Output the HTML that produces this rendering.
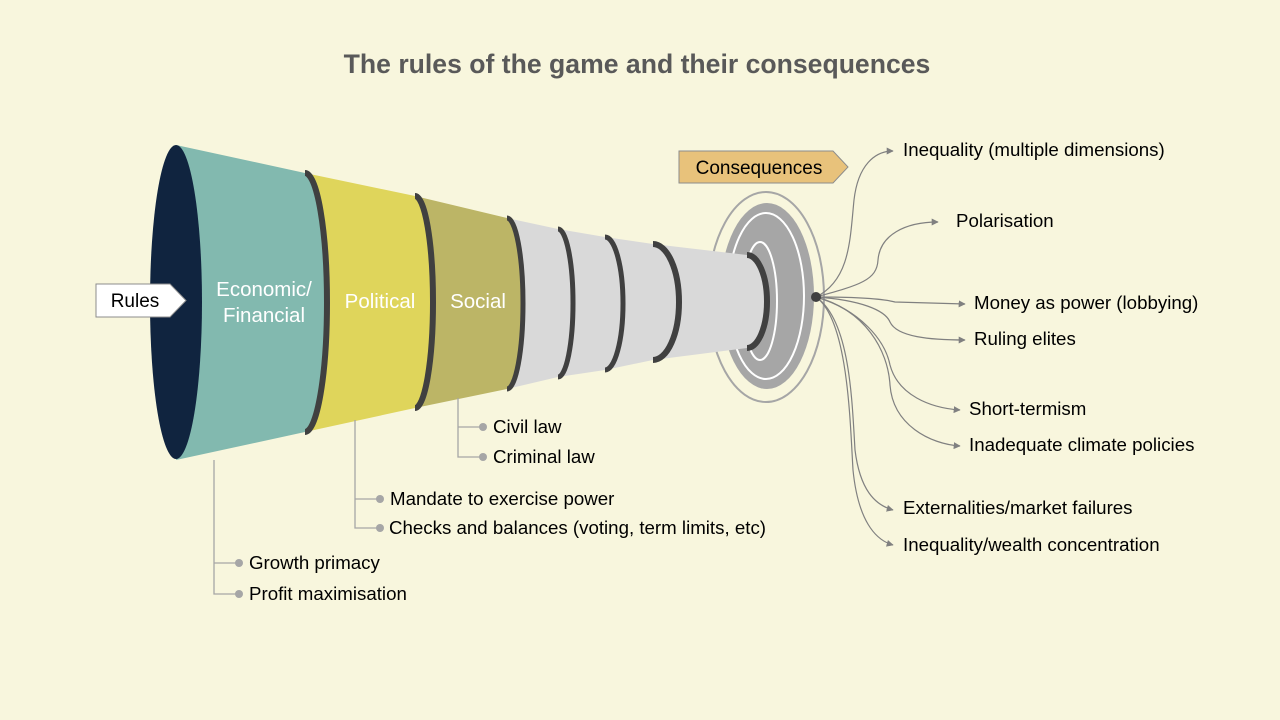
<!DOCTYPE html>
<html><head><meta charset="utf-8"><style>
html,body{margin:0;padding:0;background:#f8f6dd;}
svg{display:block;font-family:"Liberation Sans",Arial,sans-serif;}
</style></head><body>
<svg width="1280" height="720" viewBox="0 0 1280 720" xmlns="http://www.w3.org/2000/svg">
<defs>
<marker id="ar" viewBox="0 0 10 10" refX="9" refY="5" markerWidth="7" markerHeight="7" orient="auto" markerUnits="userSpaceOnUse"><path d="M0,0 L10,5 L0,10 z" fill="#808080"/></marker>
</defs>
<rect width="1280" height="720" fill="#f8f6dd"/>
<text x="637" y="73" text-anchor="middle" font-size="26.6" font-weight="bold" fill="#595959">The rules of the game and their consequences</text>

<!-- target -->
<ellipse cx="766" cy="297" rx="58" ry="105" fill="none" stroke="#a6a6a6" stroke-width="2"/>
<ellipse cx="767" cy="296" rx="47" ry="93" fill="#a6a6a6"/>
<ellipse cx="766" cy="296" rx="38" ry="83" fill="none" stroke="#fff" stroke-width="2"/>
<ellipse cx="760" cy="301" rx="17" ry="59" fill="none" stroke="#fff" stroke-width="2"/>

<!-- grey funnel segments (right to left) -->
<path d="M653,244 L747,255 A20,46.5 0 0 1 747,348 L653,360 Z" fill="#d9d9d9"/>
<path d="M747,255 A20,46.5 0 0 1 747,348" fill="none" stroke="#404040" stroke-width="6"/>
<path d="M605,237 L653,244 A26,58 0 0 1 653,360 L605,370 Z" fill="#d9d9d9"/>
<path d="M653,244 A26,58 0 0 1 653,360" fill="none" stroke="#404040" stroke-width="6"/>
<path d="M558,229 L605,237 A18,66.5 0 0 1 605,370 L558,377 Z" fill="#d9d9d9"/>
<path d="M605,237 A18,66.5 0 0 1 605,370" fill="none" stroke="#404040" stroke-width="5"/>
<path d="M507,218 L558,229 A15,74 0 0 1 558,377 L507,389 Z" fill="#d9d9d9"/>
<path d="M558,229 A15,74 0 0 1 558,377" fill="none" stroke="#404040" stroke-width="5"/>
<!-- social -->
<path d="M415,196 L507,218 A16,85.5 0 0 1 507,389 L415,408 Z" fill="#bcb566"/>
<path d="M507,218 A16,85.5 0 0 1 507,389" fill="none" stroke="#404040" stroke-width="5"/>
<!-- political -->
<path d="M305,173 L415,196 A18,106 0 0 1 415,408 L305,432 Z" fill="#dfd55b"/>
<path d="M415,196 A18,106 0 0 1 415,408" fill="none" stroke="#404040" stroke-width="6"/>
<!-- economic -->
<path d="M176,145 L305,173 A22,129.5 0 0 1 305,432 L176,460 Z" fill="#82b9af"/>
<path d="M305,173 A22,129.5 0 0 1 305,432" fill="none" stroke="#404040" stroke-width="6"/>
<ellipse cx="176" cy="302" rx="26" ry="157" fill="#10243f"/>

<g fill="#fff" font-size="20.5" text-anchor="middle">
<text x="264" y="296">Economic/</text>
<text x="264" y="322">Financial</text>
<text x="380" y="308">Political</text>
<text x="478" y="308">Social</text>
</g>

<!-- Rules tag -->
<path d="M96,284 L170,284 L186,300.5 L170,317 L96,317 Z" fill="#fff" stroke="#8c8c8c" stroke-width="1"/>
<text x="135" y="307" font-size="19" text-anchor="middle" fill="#000">Rules</text>
<!-- Consequences tag -->
<path d="M679,151 L833,151 L848,167 L833,183 L679,183 Z" fill="#e8c27b" stroke="#8c8c8c" stroke-width="1"/>
<text x="759" y="174" font-size="19" text-anchor="middle" fill="#000">Consequences</text>

<!-- left bullets -->
<g stroke="#a6a6a6" stroke-width="1.3" fill="none">
<path d="M214,460 L214,594 L239,594 M214,563 L239,563"/>
<path d="M355,420 L355,528 L380,528 M355,499 L380,499"/>
<path d="M458,398 L458,457 L483,457 M458,427 L483,427"/>
</g>
<g fill="#a6a6a6">
<circle cx="239" cy="563" r="4"/><circle cx="239" cy="594" r="4"/>
<circle cx="380" cy="499" r="4"/><circle cx="380" cy="528" r="4"/>
<circle cx="483" cy="427" r="4"/><circle cx="483" cy="457" r="4"/>
</g>
<g font-size="18.7" fill="#000">
<text x="249" y="569">Growth primacy</text>
<text x="249" y="600">Profit maximisation</text>
<text x="390" y="505">Mandate to exercise power</text>
<text x="389" y="534">Checks and balances (voting, term limits, etc)</text>
<text x="493" y="433">Civil law</text>
<text x="493" y="463">Criminal law</text>
</g>

<!-- right connectors -->
<g stroke="#808080" stroke-width="1.2" fill="none" marker-end="url(#ar)">
<path d="M816,297 C850,280 850,240 854,200 C858,165 875,151 893,151"/>
<path d="M816,297 C860,285 877,280 878,260 C880,235 905,222 938,222"/>
<path d="M816,297 C850,297 880,298 895,302 L965,304"/>
<path d="M816,297 C860,300 885,310 890,322 C897,337 930,340 965,340"/>
<path d="M816,297 C860,310 885,340 890,365 C898,395 930,408 960,410"/>
<path d="M816,297 C865,310 888,350 890,385 C893,425 930,444 960,446"/>
<path d="M816,297 C850,320 852,400 855,450 C860,490 875,505 893,510"/>
<path d="M816,297 C848,320 850,420 853,470 C858,520 875,540 893,545"/>
</g>
<circle cx="816" cy="297" r="5" fill="#404040"/>
<g font-size="18.7" fill="#000">
<text x="903" y="156">Inequality (multiple dimensions)</text>
<text x="956" y="227">Polarisation</text>
<text x="974" y="309">Money as power (lobbying)</text>
<text x="974" y="345">Ruling elites</text>
<text x="969" y="415">Short-termism</text>
<text x="969" y="451">Inadequate climate policies</text>
<text x="903" y="514">Externalities/market failures</text>
<text x="903" y="551">Inequality/wealth concentration</text>
</g>
</svg>
</body></html>
